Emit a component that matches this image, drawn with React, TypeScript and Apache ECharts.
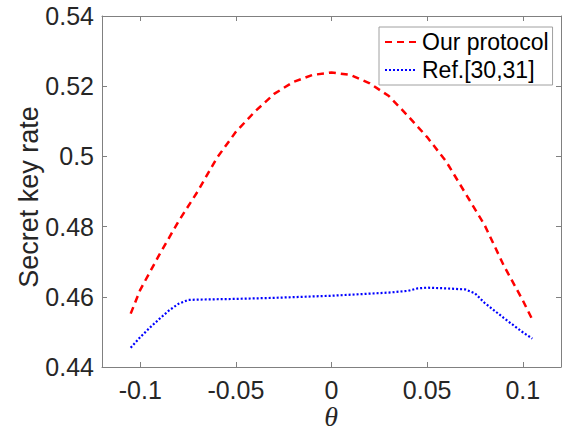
import React, { useEffect, useRef } from "react";
import * as echarts from "echarts";

const thetaValues = [-0.105, -0.1, -0.09, -0.08, -0.07, -0.06, -0.05, -0.04, -0.03, -0.02, -0.01, 0, 0.01, 0.02, 0.03, 0.04, 0.05, 0.06, 0.07, 0.08, 0.09, 0.1, 0.105];
const ourProtocol = [0.4552, 0.462, 0.472, 0.4815, 0.49, 0.4995, 0.507, 0.5128, 0.5178, 0.5212, 0.5232, 0.5239, 0.5232, 0.5208, 0.5172, 0.5115, 0.5055, 0.4985, 0.4895, 0.4805, 0.469, 0.459, 0.4535];

const refTheta = [-0.105, -0.1, -0.095, -0.09, -0.085, -0.08, -0.075, -0.07, -0.05, -0.03, -0.01, 0, 0.01, 0.02, 0.03, 0.04, 0.045, 0.05, 0.06, 0.07, 0.075, 0.08, 0.09, 0.1, 0.105];
const refValues = [0.4455, 0.4485, 0.4512, 0.4537, 0.4561, 0.458, 0.4591, 0.4592, 0.4594, 0.4597, 0.4601, 0.4603, 0.4606, 0.4609, 0.4612, 0.4617, 0.4624, 0.4626, 0.4624, 0.4621, 0.461, 0.4583, 0.454, 0.4499, 0.4481];

const xTicks = [-0.1, -0.05, 0, 0.05, 0.1];
const yTicks = [0.44, 0.46, 0.48, 0.5, 0.52, 0.54];

const seriesNames = ["Our protocol", "Ref.[30,31]"];
const yTitle = "Secret key rate";
const xTitle = "θ";

const fmt = (v: number) => String(+Number(v).toFixed(3));

export default function App() {
  const ref = useRef<HTMLDivElement>(null);
  useEffect(() => {
    if (!ref.current) return;
    const chart = echarts.init(ref.current, null, { renderer: "svg" });
    const axisLine = { show: true, onZero: false, lineStyle: { color: "#808080", width: 1 } };
    const font = "Liberation Sans";
    const xBase = {
      type: "value" as const,
      min: -0.12,
      max: 0.12,
      axisLine,
      splitLine: { show: false },
      axisTick: { show: true, inside: true, length: 5, customValues: xTicks, lineStyle: { color: "#808080" } },
    };
    const yBase = {
      type: "value" as const,
      min: 0.44,
      max: 0.54,
      axisLine,
      splitLine: { show: false },
      axisTick: { show: true, inside: true, length: 5, customValues: yTicks, lineStyle: { color: "#808080" } },
    };
    chart.setOption({
      animation: false,
      backgroundColor: "#ffffff",
      grid: { left: 102, top: 16, right: 9, bottom: 62, containLabel: false, outerBoundsMode: "none" },
      legend: {
        show: true,
        orient: "vertical",
        left: 379,
        top: 27,
        padding: [2, 4, 2, 5],
        itemGap: 2,
        itemWidth: 32,
        itemHeight: 14,
        borderColor: "#a0a0a0",
        borderWidth: 1,
        backgroundColor: "#ffffff",
        itemStyle: { opacity: 0 },
        textStyle: { fontFamily: font, fontSize: 23, color: "#000000", lineHeight: 26 },
        data: seriesNames,
      },
      graphic: [
        {
          type: "text",
          x: 29,
          y: 197,
          rotation: Math.PI / 2,
          style: { text: yTitle, fontFamily: font, fontSize: 27, fill: "#262626", align: "center", verticalAlign: "middle" },
        },
        {
          type: "text",
          x: 331,
          y: 416,
          style: { text: xTitle, fontFamily: "Liberation Serif", fontStyle: "italic", fontSize: 28, lineHeight: 26, fill: "#262626", align: "center", verticalAlign: "middle" },
        },
      ],
      xAxis: [
        {
          ...xBase,
          position: "bottom",
          axisLabel: { show: true, customValues: xTicks, formatter: fmt, fontFamily: font, fontSize: 25, lineHeight: 20, color: "#262626", margin: 13 },
        },
        { ...xBase, position: "top", axisLabel: { show: false } },
      ],
      yAxis: [
        {
          ...yBase,
          position: "left",
          axisLabel: { show: true, customValues: yTicks, formatter: fmt, fontFamily: font, fontSize: 25, color: "#262626", margin: 8 },
        },
        { ...yBase, position: "right", axisLabel: { show: false } },
      ],
      series: [
        {
          name: seriesNames[0],
          type: "line",
          xAxisIndex: 0,
          yAxisIndex: 0,
          symbol: "none",
          smooth: false,
          data: thetaValues.map((x, i) => [x, ourProtocol[i]]),
          lineStyle: { color: "#ff0000", width: 2.5, type: [7, 5] },
          itemStyle: { color: "#ff0000" },
        },
        {
          name: seriesNames[1],
          type: "line",
          xAxisIndex: 0,
          yAxisIndex: 0,
          symbol: "none",
          smooth: false,
          data: refTheta.map((x, i) => [x, refValues[i]]),
          lineStyle: { color: "#0000ff", width: 2.2, type: [2, 2] },
          itemStyle: { color: "#0000ff" },
        },
      ],
    });
    return () => chart.dispose();
  }, []);
  return <div ref={ref} style={{ width: 570, height: 429, position: "absolute", left: 0, top: 0 }} />;
}
